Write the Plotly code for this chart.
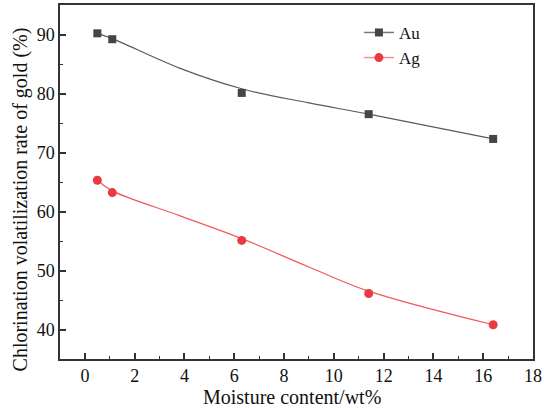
import plotly.graph_objects as go

moisture = [0.5, 1.1, 6.3, 11.4, 16.4]
au = [90.2, 89.2, 80.1, 76.5, 72.3]
ag = [65.3, 63.2, 55.1, 46.1, 40.8]

# fitted trend curves
fit_x = [0.5, 1.1, 3.8, 6.3, 9.0, 11.4, 16.4]
au_fit = [90.2, 89.3, 84.3, 80.8, 78.4, 76.5, 72.3]
ag_fit = [65.3, 63.5, 59.3, 55.4, 50.6, 46.5, 40.8]

x_ticks = [0, 2, 4, 6, 8, 10, 12, 14, 16, 18]
y_ticks = [40, 50, 60, 70, 80, 90]
x_title = "Moisture content/wt%"
y_title = "Chlorination volatilization rate of gold (%)"

FONT = "Liberation Serif, Times New Roman, serif"
au_col = "#454545"
ag_col = "#ea3a3f"
au_line = "#5a5a5a"
ag_line = "#f25a5a"

fig = go.Figure()
fig.add_trace(go.Scatter(x=fit_x, y=au_fit, mode="lines", showlegend=False, hoverinfo="skip",
                         line=dict(color=au_line, width=1.2, shape="spline", smoothing=1.0)))
fig.add_trace(go.Scatter(x=fit_x, y=ag_fit, mode="lines", showlegend=False, hoverinfo="skip",
                         line=dict(color=ag_line, width=1.2, shape="spline", smoothing=1.0)))
fig.add_trace(go.Scatter(x=moisture, y=au, mode="markers", showlegend=False,
                         marker=dict(symbol="square", size=8, color=au_col)))
fig.add_trace(go.Scatter(x=moisture, y=ag, mode="markers", showlegend=False,
                         marker=dict(symbol="circle", size=9, color=ag_col)))
# legend entries
fig.add_trace(go.Scatter(x=[None], y=[None], mode="lines+markers", name="Au",
                         marker=dict(symbol="square", size=8, color=au_col),
                         line=dict(color="#777777", width=1.5)))
fig.add_trace(go.Scatter(x=[None], y=[None], mode="lines+markers", name="Ag",
                         marker=dict(symbol="circle", size=9, color=ag_col),
                         line=dict(color="#f59090", width=1.5)))

axis_common = dict(
    ticks="inside", ticklen=6, tickwidth=1.5, tickcolor="#333",
    showline=True, linecolor="#333", linewidth=1.5, mirror=True,
    showgrid=False, zeroline=False, automargin=False,
    tickfont=dict(family=FONT, size=18, color="#111"),
)

fig.update_layout(
    width=544, height=408,
    margin=dict(l=60, r=11, t=5, b=49),
    plot_bgcolor="white", paper_bgcolor="white",
    font=dict(family=FONT, size=18, color="#111"),
    legend=dict(x=0.632, y=0.972, xanchor="left", yanchor="top", bgcolor="rgba(0,0,0,0)",
                font=dict(family=FONT, size=17), tracegroupgap=0),
    xaxis=dict(range=[-1, 18], tickvals=x_ticks,
               minor=dict(dtick=1, ticks="inside", ticklen=3, tickcolor="#333", tickwidth=1.2),
               **axis_common),
    yaxis=dict(range=[35, 95], tickvals=y_ticks,
               minor=dict(dtick=5, ticks="inside", ticklen=3, tickcolor="#333", tickwidth=1.2),
               **axis_common),
    annotations=[
        dict(text=x_title, xref="paper", yref="paper", x=0.49, y=-0.107,
             xanchor="center", yanchor="middle", showarrow=False,
             font=dict(family=FONT, size=20, color="#111")),
        dict(text=y_title, xref="paper", yref="paper", x=-0.083, y=0.45,
             xanchor="center", yanchor="middle", textangle=-90, showarrow=False,
             font=dict(family=FONT, size=20, color="#111")),
    ],
)
fig.write_html("out.html", config={"displayModeBar": False},
               post_script="document.body.style.margin='0';document.body.style.overflow='hidden';")
